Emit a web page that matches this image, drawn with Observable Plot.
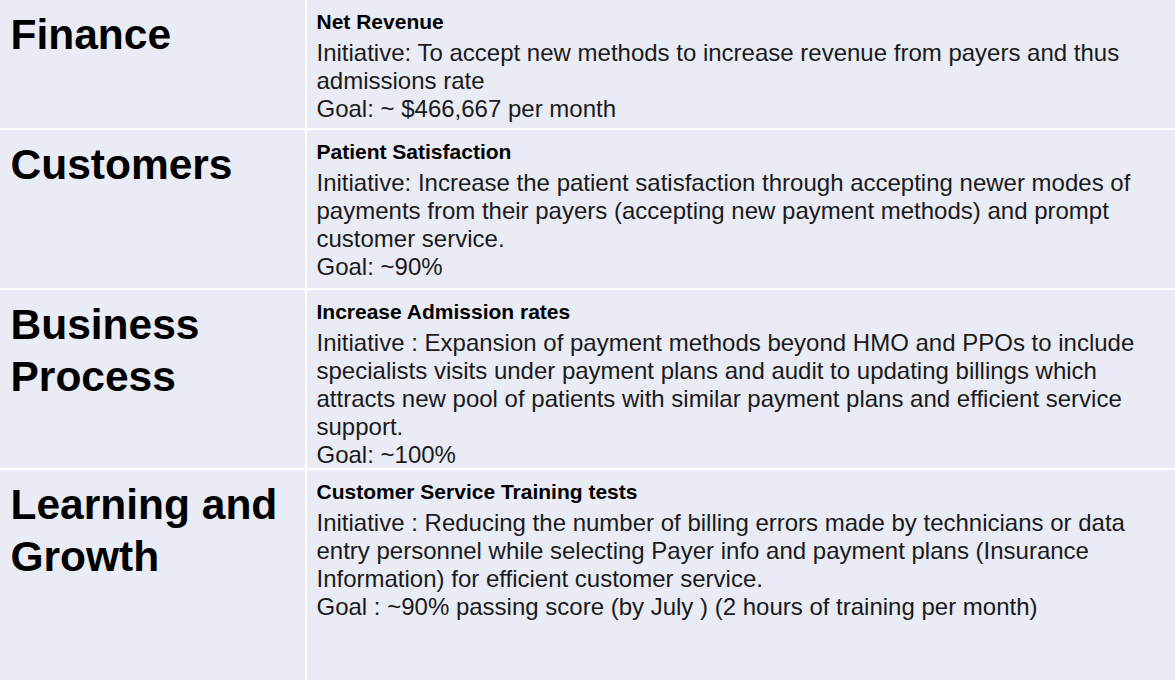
<!DOCTYPE html>
<html><head><meta charset="utf-8">
<script src="https://cdn.jsdelivr.net/npm/d3@7"></script>
<script src="https://cdn.jsdelivr.net/npm/@observablehq/plot@0.6"></script>
<style>body{margin:0;background:#fff}</style>
</head><body><div id="chart"></div>
<script>
const categories = [["Finance"], ["Customers"], ["Business", "Process"], ["Learning and", "Growth"]];
const metrics = ["Net Revenue", "Patient Satisfaction", "Increase Admission rates", "Customer Service Training tests"];
const initiatives = [
  ["Initiative: To accept new methods to increase revenue from payers and thus", "admissions rate"],
  ["Initiative: Increase the patient satisfaction through accepting newer modes of", "payments from their payers (accepting new payment methods) and prompt", "customer service."],
  ["Initiative : Expansion of payment methods beyond HMO and PPOs to include", "specialists visits under payment plans and audit to updating billings which", "attracts new pool of patients with similar payment plans and efficient service", "support."],
  ["Initiative : Reducing the number of billing errors made by technicians or data", "entry personnel while selecting Payer info and payment plans (Insurance", "Information) for efficient customer service."]
];
const goals = ["Goal: ~ $466,667 per month", "Goal: ~90%", "Goal: ~100%", "Goal : ~90% passing score (by July ) (2 hours of training per month)"];

const W = 1175, H = 680, splitX = 306, gap = 2;
const rowTops = [0, 130, 290, 470];
const rows = rowTops.map((t, i) => ({y1: t, y2: (i < 3 ? rowTops[i + 1] - gap : H)}));
const cells = rows.flatMap(r => [{x1: 0, x2: splitX - 1, ...r}, {x1: splitX + 1, x2: W, ...r}]);

const leftText = categories.flatMap((ls, i) => ls.map((t, j) => ({t, x: 10, y: rowTops[i] + 35 + j * 52})));
const titles = metrics.map((t, i) => ({t, x: 316, y: rowTops[i] + 22}));
const bodies = initiatives.flatMap((ls, i) => [...ls, goals[i]].map((t, j) => ({t, x: 316, y: rowTops[i] + 53 + j * 28})));

const chart = Plot.plot({
  width: W, height: H, margin: 0,
  x: {domain: [0, W], range: [0, W], axis: null},
  y: {domain: [0, H], range: [0, H], axis: null},
  style: {background: "#ffffff", fontFamily: "'Liberation Sans', Arial, sans-serif"},
  marks: [
    Plot.rect(cells, {x1: "x1", x2: "x2", y1: "y1", y2: "y2", fill: "#e9ebf5"}),
    Plot.text(leftText, {x: "x", y: "y", text: "t", textAnchor: "start", fontSize: 42.5, fontWeight: "bold", fill: "#000"}),
    Plot.text(titles, {x: "x", y: "y", text: "t", textAnchor: "start", fontSize: 21, fontWeight: "bold", fill: "#000"}),
    Plot.text(bodies, {x: "x", y: "y", text: "t", textAnchor: "start", fontSize: 24, fill: "#1a1a1a"})
  ]
});
document.getElementById("chart").append(chart);
</script></body></html>
